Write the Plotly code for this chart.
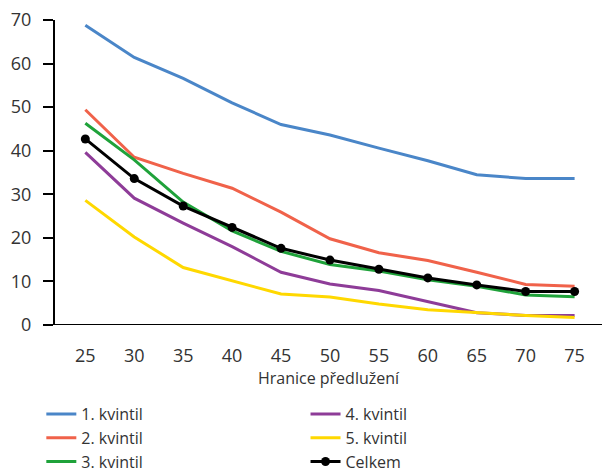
import plotly.graph_objects as go

x_vals = [25, 30, 35, 40, 45, 50, 55, 60, 65, 70, 75]
q1 = [68.8, 61.4, 56.6, 51.0, 46.0, 43.6, 40.6, 37.7, 34.5, 33.6, 33.6]
q2 = [49.4, 38.5, 34.8, 31.4, 25.9, 19.8, 16.6, 14.8, 12.1, 9.3, 8.9]
q3 = [46.3, 37.9, 28.2, 21.6, 16.9, 13.9, 12.4, 10.4, 8.9, 6.9, 6.5]
q4 = [39.6, 29.1, 23.4, 18.0, 12.1, 9.4, 7.9, 5.4, 2.8, 2.2, 2.2]
q5 = [28.6, 20.2, 13.2, 10.1, 7.1, 6.4, 4.8, 3.5, 2.8, 2.2, 1.7]
total = [42.7, 33.6, 27.3, 22.4, 17.6, 14.9, 12.8, 10.8, 9.2, 7.7, 7.7]
y_ticks = [0, 10, 20, 30, 40, 50, 60, 70]

series = [
    ("1. kvintil", q1, "#4a86c8", "legend"),
    ("2. kvintil", q2, "#f0624a", "legend"),
    ("3. kvintil", q3, "#1fa23a", "legend"),
    ("4. kvintil", q4, "#8e3c98", "legend2"),
    ("5. kvintil", q5, "#ffd800", "legend2"),
]

fig = go.Figure()
for name, ys, col, lg in series:
    fig.add_trace(go.Scatter(x=x_vals, y=ys, name=name, mode="lines",
                             line=dict(color=col, width=3), legend=lg))
fig.add_trace(go.Scatter(x=x_vals, y=total, name="Celkem", mode="lines+markers",
                         line=dict(color="black", width=3),
                         marker=dict(color="black", size=9), legend="legend2"))

font_family = "Open Sans, sans-serif"
fig.update_layout(
    width=613, height=470,
    margin=dict(l=55, r=11, t=20, b=145, autoexpand=False),
    plot_bgcolor="white", paper_bgcolor="white",
    font=dict(family=font_family, size=18, color="#333333"),
    xaxis=dict(range=[21.9, 77.8], tickvals=x_vals, showgrid=False, zeroline=False,
               showline=False, ticks="", ticklabelstandoff=18,
               title=dict(text="Hranice předlužení", standoff=4,
                          font=dict(size=16, color="#333333"))),
    yaxis=dict(range=[0, 70], tickvals=y_ticks, showgrid=False, zeroline=False,
               showline=True, linecolor="black", linewidth=2, ticks="outside",
               ticklen=10, tickwidth=2, tickcolor="black", ticklabelstandoff=8),
    legend=dict(x=-0.025, y=-0.236, xanchor="left", yanchor="top",
                font=dict(size=16, color="#333333"), tracegroupgap=0,
                bgcolor="rgba(0,0,0,0)"),
    legend2=dict(x=0.458, y=-0.236, xanchor="left", yanchor="top",
                 font=dict(size=16, color="#333333"), tracegroupgap=0,
                 bgcolor="rgba(0,0,0,0)"),
    shapes=[dict(type="line", xref="paper", yref="y", x0=-0.018, x1=1.0, y0=0, y1=0,
                 line=dict(color="black", width=2))],
)

fig.write_html("out.html")
